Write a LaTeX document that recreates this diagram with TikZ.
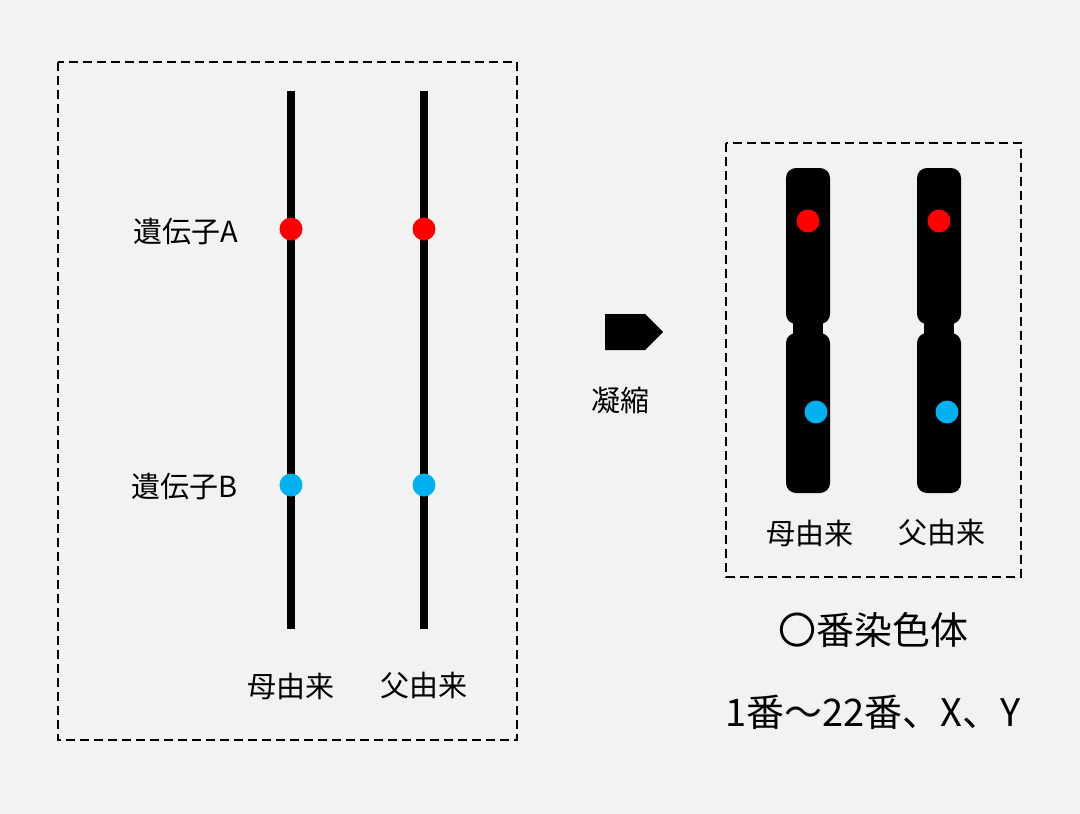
\documentclass[tikz,border=0pt]{standalone}
\usepackage{fontspec}
\setmainfont{Noto Sans CJK JP}
\usetikzlibrary{shapes.arrows}
\definecolor{bg}{HTML}{F2F2F2}
\definecolor{dotred}{HTML}{FF0000}
\definecolor{dotblue}{HTML}{00B0F0}
\begin{document}
\begin{tikzpicture}[x=1pt,y=-1pt,
  box/.style={draw,dashed,line width=2pt,dash pattern=on 9pt off 5pt},
  strand/.style={line width=8pt},
  rdot/.style={circle,fill=dotred,inner sep=0pt,minimum size=23pt},
  bdot/.style={circle,fill=dotblue,inner sep=0pt,minimum size=23pt},
  lbl/.style={font=\fontsize{29}{30}\selectfont,inner sep=0pt},
  big/.style={font=\fontsize{38}{40}\selectfont,inner sep=0pt}]
\fill[bg] (0,0) rectangle (1080,814);
\useasboundingbox (0,0) rectangle (1080,814);
\draw[box] (58,62) rectangle (517,740);
\draw[box] (726,143) rectangle (1021,577);
\coordinate (m1) at (291,91); \coordinate (m2) at (291,629);
\coordinate (f1) at (424,91); \coordinate (f2) at (424,629);
\draw[strand] (m1) -- (m2);
\draw[strand] (f1) -- (f2);
\node[rdot] (ma) at (291,229) {};
\node[rdot] (fa) at (424,229) {};
\node[bdot] (mb) at (291,485) {};
\node[bdot] (fb) at (424,485) {};
\node[lbl,anchor=east] (ga) at (238,232) {遺伝子A};
\node[lbl,anchor=east] (gb) at (238,487) {遺伝子B};
\node[lbl] (lm) at (291,686) {母由来};
\node[lbl] (lf) at (424,686) {父由来};
\node[single arrow,fill=black,minimum height=58pt,minimum width=36pt,single arrow head extend=0pt,inner sep=0pt,shape border uses incircle=false] (arr) at (625,332) {};
\node[lbl] (gyo) at (620,400) {凝縮};
\foreach \x/\n in {808/c1,939/c2}{
  \fill[rounded corners=10pt] (\x-22,168) rectangle (\x+22,324);
  \fill[rounded corners=10pt] (\x-22,333) rectangle (\x+22,493);
  \fill (\x-15,318) rectangle (\x+15,340);
}
\node[rdot] (cr1) at (808,221) {};
\node[rdot] (cr2) at (939,221) {};
\node[bdot] (cb1) at (816,412) {};
\node[bdot] (cb2) at (947,412) {};
\node[lbl] (rm) at (810,533) {母由来};
\node[lbl] (rf) at (942,533) {父由来};
\node[big] (t1) at (873,630) {〇番染色体};
\node[big] (t2) at (873,712) {1番～22番、X、Y};
\end{tikzpicture}
\end{document}
